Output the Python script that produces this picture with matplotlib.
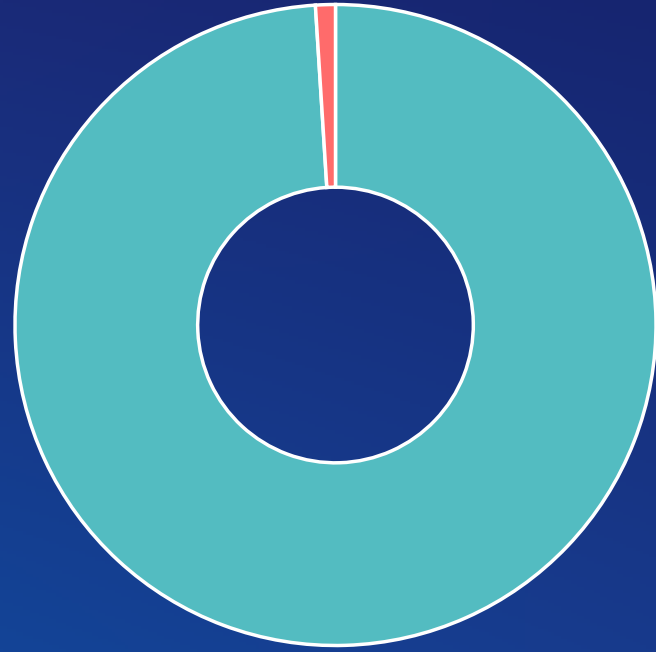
import numpy as np
import matplotlib
matplotlib.use("Agg")
import matplotlib.pyplot as plt
from matplotlib.colors import to_rgb

labels = ["A", "B"]
values = [99, 1]
colors = ["#53BCC1", "#FF6B6B"]

W, H, DPI = 656, 652, 100
fig = plt.figure(figsize=(W / DPI, H / DPI), dpi=DPI)

# background gradient
bg = fig.add_axes([0, 0, 1, 1])
tl, tr = np.array(to_rgb("#1a2a78")), np.array(to_rgb("#162570"))
bl, br = np.array(to_rgb("#134497")), np.array(to_rgb("#183a8c"))
u = np.linspace(0, 1, 200)[None, :, None]
v = np.linspace(0, 1, 200)[:, None, None]
img = (1 - v) * ((1 - u) * tl + u * tr) + v * ((1 - u) * bl + u * br)
bg.imshow(img, aspect="auto", extent=[0, 1, 0, 1], origin="upper")
bg.set_axis_off()

# donut
cx, cy, R = 335.5, 325.0, 320.5
ax = fig.add_axes([(cx - R) / W, (H - cy - R) / H, 2 * R / W, 2 * R / H])
ax.pie(values, colors=colors, startangle=90, counterclock=False, radius=1.0,
       wedgeprops=dict(width=1 - 0.43, edgecolor="white", linewidth=2.5))
ax.set_xlim(-1, 1)
ax.set_ylim(-1, 1)
ax.set_aspect("auto")
ax.set_axis_off()

fig.savefig("out.png", dpi=DPI)
